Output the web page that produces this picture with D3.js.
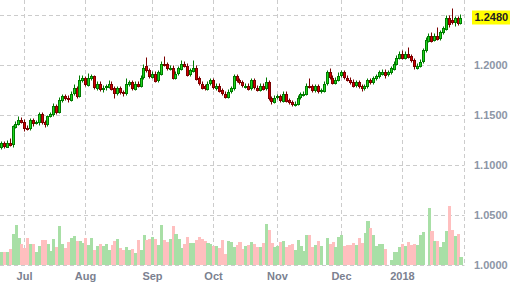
<!DOCTYPE html>
<html>
<head>
<meta charset="utf-8">
<script src="https://cdn.jsdelivr.net/npm/d3@7"></script>
<style>
  body { margin: 0; background: #fff; }
  svg { display: block; }
  text { font-family: "Liberation Sans", Arial, sans-serif; font-weight: bold; font-size: 11px; }
</style>
</head>
<body>
<svg width="514" height="295"></svg>
<script>
// daily candles, 21 Jun 2017 .. 29 Jan 2018 (weekdays)
var opens = [
  1.118,1.122,1.119,1.123,1.121,1.139,1.142,1.146,1.144,1.138, 1.137,1.145,1.142,1.143,1.151,1.143,1.141,1.149,1.151,1.159,
  1.153,1.165,1.169,1.167,1.166,1.172,1.177,1.169,1.185,1.187, 1.181,1.187,1.189,1.178,1.182,1.177,1.178,1.179,1.182,1.177,
  1.172,1.177,1.173,1.172,1.181,1.183,1.177,1.182,1.180,1.188, 1.199,1.195,1.189,1.192,1.185,
  1.192,1.202,1.201,1.197,1.198,1.188,1.192,1.197,1.202,1.200, 1.191,1.195,1.198,1.187,1.182,1.179,1.177,1.182,1.185,1.178,
  1.180,1.175,1.172,1.169,1.174,1.177,1.189,1.185,1.183,1.179, 1.180,1.177,1.185,1.178,1.176,1.180,1.177,1.183,1.167,1.164,
  1.168,1.169,1.165,1.172,1.165,1.163,1.161,1.162,1.168,1.171, 1.172,1.180,1.179,1.175,1.179,1.174,1.175,1.182,1.193,1.188,
  1.183,1.186,1.190,1.193,1.188,1.186,1.184,1.180,1.183,1.179, 1.177,1.179,1.185,1.183,1.187,1.189,1.192,
  1.194,1.191,1.193,1.197,1.202,1.208,1.212,1.208,1.212,1.209, 1.205,1.198,1.200,1.204,1.215,1.225,1.230,1.226,1.230,1.227,
  1.233,1.237,1.248,1.245,1.243,1.247,1.243
];
var highs = [
  1.124,1.124,1.125,1.127,1.140,1.144,1.149,1.148,1.146,1.140, 1.147,1.147,1.145,1.153,1.153,1.145,1.150,1.153,1.162,1.161,
  1.168,1.171,1.171,1.170,1.174,1.181,1.179,1.190,1.190,1.189, 1.192,1.191,1.190,1.184,1.184,1.180,1.181,1.185,1.184,1.179,
  1.179,1.179,1.175,1.187,1.185,1.185,1.184,1.184,1.190,1.201, 1.208,1.197,1.194,1.194,1.195,
  1.204,1.209,1.203,1.200,1.200,1.194,1.199,1.205,1.204,1.202, 1.197,1.205,1.200,1.189,1.184,1.181,1.184,1.187,1.187,1.182,
  1.182,1.177,1.174,1.176,1.179,1.191,1.191,1.187,1.185,1.182, 1.182,1.187,1.187,1.180,1.182,1.182,1.188,1.185,1.169,1.170,
  1.171,1.171,1.174,1.174,1.167,1.165,1.164,1.170,1.173,1.174, 1.182,1.187,1.181,1.181,1.181,1.177,1.184,1.195,1.197,1.190,
  1.188,1.193,1.195,1.195,1.190,1.188,1.186,1.185,1.185,1.181, 1.181,1.187,1.187,1.189,1.191,1.195,1.196,
  1.196,1.195,1.199,1.204,1.210,1.214,1.215,1.214,1.218,1.211, 1.207,1.202,1.206,1.217,1.228,1.232,1.233,1.232,1.238,1.235,
  1.239,1.250,1.250,1.257,1.249,1.249,1.251
];
var lows = [
  1.116,1.117,1.118,1.119,1.118,1.137,1.140,1.142,1.134,1.135, 1.135,1.139,1.141,1.140,1.141,1.138,1.139,1.148,1.149,1.151,
  1.152,1.163,1.165,1.163,1.164,1.170,1.167,1.168,1.183,1.179, 1.179,1.185,1.176,1.175,1.174,1.173,1.175,1.177,1.175,1.167,
  1.170,1.171,1.169,1.170,1.179,1.175,1.175,1.178,1.178,1.186, 1.193,1.187,1.187,1.183,1.183,
  1.190,1.199,1.195,1.195,1.186,1.186,1.190,1.195,1.198,1.189, 1.189,1.193,1.185,1.180,1.176,1.175,1.175,1.180,1.176,1.175,
  1.173,1.170,1.167,1.167,1.172,1.175,1.183,1.181,1.178,1.177, 1.175,1.175,1.176,1.174,1.174,1.175,1.175,1.165,1.161,1.162,
  1.166,1.163,1.163,1.163,1.161,1.159,1.159,1.160,1.166,1.169, 1.170,1.177,1.173,1.173,1.172,1.172,1.173,1.180,1.186,1.181,
  1.181,1.184,1.188,1.186,1.184,1.181,1.178,1.178,1.177,1.174, 1.175,1.177,1.181,1.181,1.185,1.187,1.190,
  1.187,1.189,1.191,1.195,1.200,1.206,1.206,1.206,1.207,1.203, 1.196,1.196,1.198,1.202,1.213,1.223,1.223,1.224,1.225,1.225,
  1.231,1.235,1.238,1.241,1.239,1.240,1.241
];
var closes = [
  1.122,1.119,1.123,1.121,1.139,1.142,1.146,1.144,1.138,1.137, 1.145,1.142,1.143,1.151,1.143,1.141,1.149,1.151,1.159,1.153,
  1.165,1.169,1.167,1.166,1.172,1.177,1.169,1.185,1.187,1.181, 1.188,1.189,1.178,1.182,1.177,1.178,1.179,1.182,1.177,1.172,
  1.177,1.173,1.172,1.181,1.183,1.177,1.182,1.180,1.188,1.197, 1.195,1.189,1.192,1.185,1.193,
  1.202,1.201,1.197,1.198,1.188,1.192,1.197,1.202,1.200,1.191, 1.195,1.198,1.187,1.182,1.178,1.177,1.182,1.185,1.178,1.180,
  1.175,1.172,1.169,1.174,1.177,1.189,1.185,1.183,1.180,1.180, 1.177,1.185,1.178,1.176,1.180,1.177,1.183,1.167,1.164,1.168,
  1.169,1.165,1.172,1.165,1.163,1.161,1.162,1.168,1.171,1.172, 1.180,1.179,1.175,1.179,1.174,1.175,1.182,1.193,1.188,1.183,
  1.186,1.190,1.193,1.188,1.186,1.184,1.180,1.183,1.179,1.177, 1.179,1.185,1.183,1.187,1.189,1.193,1.194,
  1.191,1.193,1.197,1.202,1.208,1.212,1.208,1.212,1.209,1.205, 1.199,1.200,1.204,1.215,1.225,1.230,1.225,1.230,1.227,1.233,
  1.237,1.248,1.242,1.243,1.247,1.242,1.248
];
var volumes = [
  13,13,13,16,31,40,27,21,17,27, 21,21,13,19,25,25,21,14,26,18,
  39,21,17,23,27,29,24,24,22,27, 20,27,15,19,21,19,21,15,20,24,
  26,17,15,18,15,16,12,25,15,30, 25,26,28,26,20,40,25,23,26,39,
  31,26,17,21,28,22,22,25,28,26, 24,22,21,19,19,17,25,11,24,23,
  18,20,23,16,19,20,23,
  21,18,18,22,41,35,22,18,19,23, 24,18,20,21,15,25,19,14,30,30, 18,20,24,19,
  0,
  27,21,23,18,28,30,19,20,20,22, 20,27,22,32,44,37,30,19,21,21, 16,
  0,
  5,13,13,18,21,19,23,20,21,20, 30,33,0,57,34,24,24,18,23,34, 59,35,29,31,8
];
var priceTicks = [1.00, 1.05, 1.10, 1.15, 1.20, 1.25];
var labelTicks = [1.00, 1.05, 1.10, 1.15, 1.20];
var lastPrice = 1.2480;

// trading days
var dates = [];
var d = new Date(2017, 5, 21);
while (dates.length < closes.length) {
  if (d.getDay() % 6 !== 0) dates.push(new Date(d));
  d.setDate(d.getDate() + 1);
}

var svg = d3.select('svg');
var plotRight = 464.5;

var x = d3.scaleBand().domain(d3.range(dates.length)).range([0, 462.4]).padding(0);
var bw = x.bandwidth();
var y = d3.scaleLinear().domain([1.0, 1.25]).range([265.5, 15.5]);
var yv = d3.scaleLinear().domain([0, 100]).range([265, 165]);

function cx(i) { return Math.floor(x(i) + bw / 2) + 0.5; }

// grid
var grid = svg.append('g').attr('stroke', '#cccccc').attr('stroke-dasharray', '4,3').attr('stroke-width', 1);
grid.selectAll('line.h').data(priceTicks).enter().append('line')
  .attr('x1', 0).attr('x2', plotRight)
  .attr('y1', function(v) { return Math.round(y(v) - 0.5) + 0.5; })
  .attr('y2', function(v) { return Math.round(y(v) - 0.5) + 0.5; });

var monthStarts = [];
dates.forEach(function(dt, i) {
  if (i > 0 && dt.getMonth() !== dates[i - 1].getMonth()) monthStarts.push(i);
});
grid.selectAll('line.v').data(monthStarts).enter().append('line')
  .attr('x1', cx).attr('x2', cx).attr('y1', 0).attr('y2', 265);
grid.append('line').attr('x1', plotRight).attr('x2', plotRight).attr('y1', 0).attr('y2', 265);

// volume
svg.append('g').attr('shape-rendering', 'crispEdges')
  .selectAll('rect').data(volumes).enter().append('rect')
  .attr('x', function(v, i) { return x(i); })
  .attr('width', bw + 0.2)
  .attr('y', function(v) { return yv(v); })
  .attr('height', function(v) { return 265 - yv(v); })
  .attr('fill', function(v, i) { return closes[i] >= opens[i] ? '#a8dfa6' : '#ffbfbf'; });

// candles
var idx = d3.range(closes.length);
var up = function(i) { return closes[i] >= opens[i]; };
var cg = svg.append('g');
cg.selectAll('line').data(idx).enter().append('line')
  .attr('x1', cx).attr('x2', cx)
  .attr('y1', function(i) { return y(highs[i]); })
  .attr('y2', function(i) { return y(lows[i]); })
  .attr('stroke', function(i) { return up(i) ? '#007a00' : '#7a0000'; })
  .attr('stroke-width', 1);
cg.selectAll('rect').data(idx).enter().append('rect')
  .attr('x', function(i) { return cx(i) - 1; })
  .attr('width', 2)
  .attr('y', function(i) { return Math.round(y(Math.max(opens[i], closes[i]))) + 0.5; })
  .attr('height', function(i) { return Math.max(1, Math.round(Math.abs(y(opens[i]) - y(closes[i])))); })
  .attr('fill', function(i) { return up(i) ? '#1fd61f' : '#d40000'; })
  .attr('stroke', function(i) { return up(i) ? '#007a00' : '#7a0000'; })
  .attr('stroke-width', 1);

// y labels
svg.append('g').selectAll('text').data(labelTicks).enter().append('text')
  .attr('x', 474).attr('y', function(v) { return y(v); })
  .attr('dy', '0.35em')
  .attr('fill', '#8d96a6')
  .text(function(v) { return v.toFixed(4); });

svg.append('rect').attr('x', 472).attr('y', y(lastPrice) - 7).attr('width', 38).attr('height', 14).attr('fill', '#ffff00');
svg.append('text').attr('x', 474.5).attr('y', y(lastPrice)).attr('dy', '0.35em')
  .attr('fill', '#222').text(lastPrice.toFixed(4));

// x labels
var fmt = d3.timeFormat('%b');
svg.append('g').selectAll('text').data(monthStarts).enter().append('text')
  .attr('x', cx).attr('y', 276).attr('dy', '0.35em')
  .attr('text-anchor', 'middle')
  .attr('fill', '#7b8190')
  .text(function(i) { return dates[i].getMonth() === 0 ? String(dates[i].getFullYear()) : fmt(dates[i]); });
</script>
</body>
</html>
